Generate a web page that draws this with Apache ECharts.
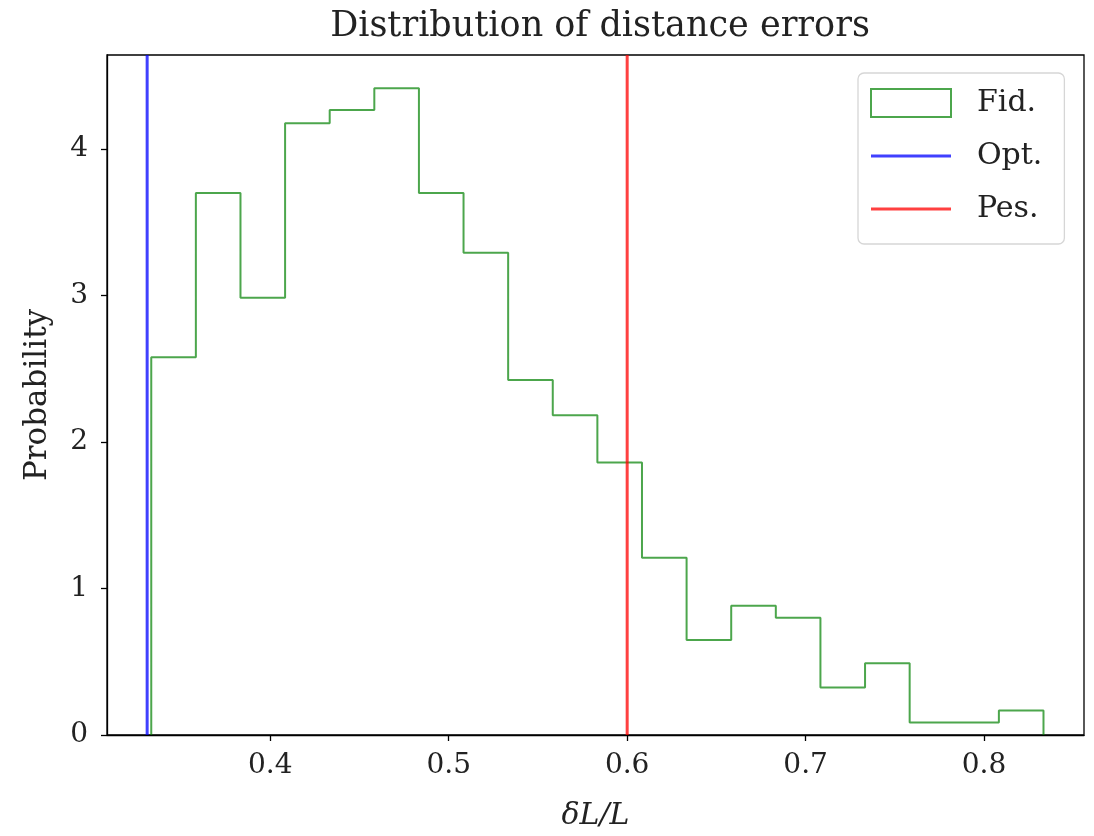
<!DOCTYPE html>
<html>
<head>
<meta charset="utf-8">
<script src="https://cdn.jsdelivr.net/npm/echarts@6/dist/echarts.min.js"></script>
<style>
  html, body { margin: 0; padding: 0; background: #fff; }
  #chart { width: 1094px; height: 836px; }
</style>
</head>
<body>
<div id="chart"></div>
<script>
// histogram bin edges (dL/L) and densities
const binEdges = [0.3333, 0.3583, 0.3833, 0.4083, 0.4333, 0.4583, 0.4833, 0.5083, 0.5333, 0.5583,
  0.5833, 0.6083, 0.6333, 0.6583, 0.6833, 0.7083, 0.7333, 0.7583, 0.7833, 0.8083, 0.8333]
const fidDensity = [2.578, 3.699, 2.984, 4.175, 4.265, 4.413, 3.699, 3.290, 2.422, 2.182,
  1.860, 1.209, 0.648, 0.882, 0.800, 0.324, 0.490, 0.086, 0.086, 0.168]
const optValue = 0.331   // Opt.
const pesValue = 0.6     // Pes.
const xTicks = [0.4, 0.5, 0.6, 0.7, 0.8]
const yTicks = [0, 1, 2, 3, 4]

const xMin = 0.3085
const xMax = 0.856
const yMax = 4.64

const serif = 'DejaVu Serif'
const textColor = '#222'
// flat bar used as a line marker in the legend
const lineIcon = 'path://M0,0H80V3H0Z'

// outline of a step histogram
const stepPoints = [[binEdges[0], 0]]
fidDensity.forEach((h, i) => {
  stepPoints.push([binEdges[i], h])
  stepPoints.push([binEdges[i + 1], h])
})
stepPoints.push([binEdges[binEdges.length - 1], 0])

let myChart = echarts.init(document.getElementById('chart'))
myChart.setOption({
  animation: false,
  title: {
    text: 'Distribution of distance errors',
    left: 595,
    textAlign: 'center',
    top: 4,
    textStyle: { fontFamily: serif, fontSize: 35, fontWeight: 'normal', color: textColor }
  },
  grid: {
    left: 107,
    right: 10,
    top: 55,
    bottom: 99,
    show: true,
    borderColor: '#000',
    borderWidth: 1.3,
    backgroundColor: 'transparent'
  },
  legend: {
    orient: 'vertical',
    left: 858,
    top: 73,
    padding: [15, 22, 20, 12],
    itemGap: 23,
    itemWidth: 80,
    itemHeight: 28,
    borderColor: '#d6d6d6',
    borderWidth: 1.3,
    borderRadius: 6,
    backgroundColor: 'rgba(255,255,255,0.8)',
    textStyle: { fontFamily: serif, fontSize: 30, color: textColor, padding: [0, 0, 0, 21] },
    data: [
      {
        name: 'Fid.',
        icon: 'rect',
        itemStyle: { color: '#fff', borderColor: 'rgba(0,128,0,0.7)', borderWidth: 2 }
      },
      { name: 'Opt.', icon: lineIcon, itemStyle: { color: 'rgba(0,0,255,0.75)' } },
      { name: 'Pes.', icon: lineIcon, itemStyle: { color: 'rgba(255,0,0,0.75)' } }
    ]
  },
  xAxis: {
    type: 'value',
    min: xMin,
    max: xMax,
    name: 'δL/L',
    nameLocation: 'middle',
    nameGap: 66,
    nameTextStyle: { fontFamily: serif, fontSize: 30, fontStyle: 'italic', color: textColor },
    axisLine: { show: true, lineStyle: { color: '#000', width: 1.3 } },
    axisTick: { show: true, inside: false, length: 6, customValues: xTicks, lineStyle: { color: '#000', width: 1.3 } },
    axisLabel: {
      customValues: xTicks,
      margin: 17,
      fontFamily: serif,
      fontSize: 28,
      color: textColor,
      formatter: v => v.toFixed(1)
    },
    splitLine: { show: false }
  },
  yAxis: {
    type: 'value',
    min: 0,
    max: yMax,
    name: 'Probability',
    nameLocation: 'middle',
    nameGap: 54,
    nameTextStyle: { fontFamily: serif, fontSize: 31, color: textColor },
    axisLine: { show: true, lineStyle: { color: '#000', width: 1.3 } },
    axisTick: { show: true, inside: false, length: 6, customValues: yTicks, lineStyle: { color: '#000', width: 1.3 } },
    axisLabel: {
      customValues: yTicks,
      margin: 19,
      fontFamily: serif,
      fontSize: 28,
      color: textColor
    },
    splitLine: { show: false }
  },
  series: [
    {
      name: 'Fid.',
      type: 'line',
      data: stepPoints,
      symbol: 'none',
      lineStyle: { color: 'rgba(0,128,0,0.7)', width: 2 },
      itemStyle: { color: 'rgba(0,128,0,0.7)' }
    },
    {
      name: 'Opt.',
      type: 'line',
      data: [[optValue, 0], [optValue, yMax]],
      symbol: 'none',
      lineStyle: { color: 'rgba(0,0,255,0.75)', width: 3 },
      itemStyle: { color: 'rgba(0,0,255,0.75)' }
    },
    {
      name: 'Pes.',
      type: 'line',
      data: [[pesValue, 0], [pesValue, yMax]],
      symbol: 'none',
      lineStyle: { color: 'rgba(255,0,0,0.75)', width: 3 },
      itemStyle: { color: 'rgba(255,0,0,0.75)' }
    }
  ]
})
window.onresize = () => {
  myChart.resize()
}
</script>
</body>
</html>
